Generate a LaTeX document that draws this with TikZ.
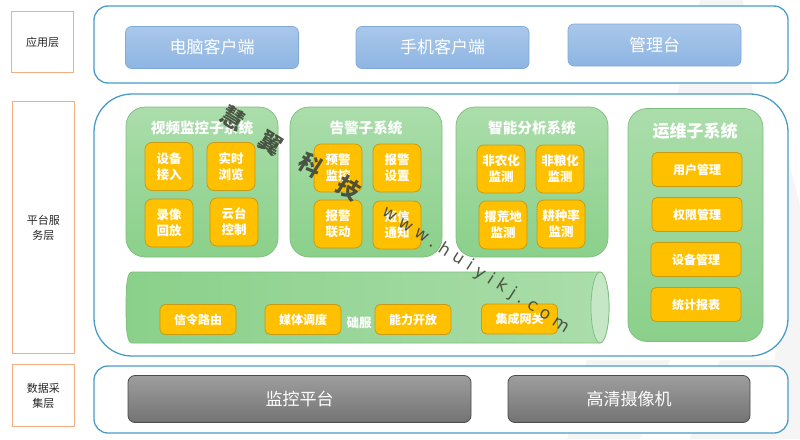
\documentclass[tikz,border=0pt]{standalone}
\usepackage{fontspec}
\setmainfont{Noto Sans CJK SC}
\newfontfamily\markfont[LetterSpace=32]{DejaVu Sans}
\usetikzlibrary{arrows.meta,positioning,calc,shapes.geometric}
\definecolor{layerblue}{HTML}{4A9CC7}
\definecolor{tagorange}{HTML}{F2AE82}
\definecolor{subgreen}{HTML}{8AD08A}
\definecolor{subedge}{HTML}{7DBD7E}
\definecolor{itemgold}{HTML}{FFC000}
\definecolor{itemedge}{HTML}{C99A12}
\definecolor{clientblue}{HTML}{8DB5E3}
\definecolor{clientedge}{HTML}{7FAAD8}
\definecolor{markgray}{HTML}{3F4638}
\definecolor{pagegray}{HTML}{F5F5F5}
\tikzset{
  x=1pt, y=-1pt,
  every node/.append style={inner sep=0pt, align=center},
  tagbox/.style={draw=tagorange, line width=1.7pt, fill=white, font=\fontsize{11}{15}\selectfont, text=black!85},
  layerbox/.style={draw=layerblue, line width=1.3pt, fill=white, rounded corners=#1},
  layerbox/.default=14pt,
  clientbox/.style={draw=clientedge, line width=0.7pt, rounded corners=6pt, top color=clientblue!75!white, bottom color=clientblue,
    text=white, font=\fontsize{17}{20}\selectfont, minimum height=42pt},
  devicebox/.style={draw=black!70, line width=0.8pt, rounded corners=7pt, top color=black!38, bottom color=black!55,
    text=white, font=\fontsize{17}{20}\selectfont, minimum height=47pt},
  groupbox/.style={draw=subedge, line width=0.7pt, rounded corners=19pt, top color=subgreen!72!white, bottom color=subgreen,
    minimum height=150pt},
  grouptitle/.style={text=white, font=\bfseries\fontsize{14.6}{17}\selectfont},
  itembox/.style={draw=itemedge, line width=0.8pt, fill=itemgold, rounded corners=7pt, text=white,
    font=\bfseries\fontsize{12.5}{16}\selectfont, minimum width=48pt, minimum height=48pt},
  wideitem/.style={itembox, rounded corners=5pt, minimum width=76pt, minimum height=30pt, font=\bfseries\fontsize{12}{14}\selectfont},
  markchar/.style={text=markgray, opacity=0.9, rotate=-32, font=\bfseries\fontsize{23}{23}\selectfont},
}
\begin{document}
\begin{tikzpicture}
\useasboundingbox (0,0) rectangle (800,439);

% --- Faint page backdrop ---
\fill[pagegray] (700,0) -- (743,0) -- (753,95) -- (677,95) -- cycle;
\fill[pagegray] (587,360) -- (670,360) -- (640,439) -- (567,439) -- cycle;
\fill[pagegray] (786,150) -- (800,205) -- (800,439) -- (690,439) -- (720,360) -- (775,360) -- cycle;

% --- Layer tags (left column) ---
\node[tagbox, minimum width=62pt, minimum height=61pt] (tagapp) at (42.5,42) {应用层};
\node[tagbox, minimum width=62pt, minimum height=252pt] (tagplat) at (43.5,227.5) {平台服\\务层};
\node[tagbox, minimum width=62pt, minimum height=62pt] (tagdata) at (43.5,395.5) {数据采\\集层};

% --- Layer frames ---
\node[layerbox, minimum width=694pt, minimum height=77pt] (app) at (441,44.5) {};
\node[layerbox=38pt, minimum width=694pt, minimum height=262pt] (plat) at (441,225) {};
\node[layerbox, minimum width=694pt, minimum height=67pt] (data) at (441,399.5) {};

% --- Application layer ---
\node[clientbox, minimum width=173pt] (pc) at (212,47.5) {电脑客户端};
\node[clientbox, minimum width=173pt] (phone) at (442.5,47.5) {手机客户端};
\node[clientbox, minimum width=173pt] (console) at (654.5,45) {管理台};

% --- Video subsystem ---
\node[groupbox, minimum width=152pt] (video) at (202,182) {};
\node[grouptitle] (videot) at (202,128) {视频监控子系统};
\node[itembox] (v1) at (169,166.5) {设备\\接入};
\node[itembox] (v2) at (231,166.5) {实时\\浏览};
\node[itembox] (v3) at (169,223) {录像\\回放};
\node[itembox] (v4) at (234,222) {云台\\控制};

% --- Alarm subsystem ---
\node[groupbox, minimum width=152pt] (alarm) at (366,182) {};
\node[grouptitle] (alarmt) at (366,128) {告警子系统};
\node[itembox] (a1) at (338,168) {预警\\监控};
\node[itembox] (a2) at (397,168) {报警\\设置};
\node[itembox] (a3) at (338,224) {报警\\联动};
\node[itembox] (a4) at (397,225) {短信\\通知};

% --- Analysis subsystem ---
\node[groupbox, minimum width=152pt] (ana) at (532,182) {};
\node[grouptitle] (anat) at (532,128) {智能分析系统};
\node[itembox] (n1) at (501,169) {非农化\\监测};
\node[itembox] (n2) at (560,169) {非粮化\\监测};
\node[itembox] (n3) at (503,225) {撂荒地\\监测};
\node[itembox] (n4) at (561,224) {耕种率\\监测};

% --- Operations subsystem ---
\node[groupbox, minimum width=135pt, minimum height=233pt] (ops) at (695.5,225) {};
\node[grouptitle, font=\bfseries\fontsize{17}{19}\selectfont] (opst) at (695,131) {运维子系统};
\node[wideitem, minimum width=90pt, minimum height=34pt] (o1) at (697,169.5) {用户管理};
\node[wideitem, minimum width=90pt, minimum height=34pt] (o2) at (697,214.5) {权限管理};
\node[wideitem, minimum width=90pt, minimum height=34pt] (o3) at (696,259.5) {设备管理};
\node[wideitem, minimum width=90pt, minimum height=34pt] (o4) at (696,304.5) {统计报表};

% --- Cylinder bus ---
\draw[draw=subedge, line width=0.7pt, left color=subgreen, right color=subgreen!72!white]
  (132,272) -- (600,272) .. controls (605,272) and (609,288) .. (609,307.5) .. controls (609,327) and (605,343) .. (600,343)
  -- (132,343) .. controls (127,343) and (126,330) .. (126,307.5) .. controls (126,285) and (127,272) .. (132,272) -- cycle;
\draw[draw=subedge, line width=0.7pt, fill=subgreen!50!white] (600,272) .. controls (605,272) and (609,288) .. (609,307.5)
  .. controls (609,327) and (605,343) .. (600,343) .. controls (595,343) and (591,327) .. (591,307.5) .. controls (591,288) and (595,272) .. (600,272) -- cycle;
\node[text=white, font=\bfseries\fontsize{12.5}{14}\selectfont] (bust) at (359,323) {础服};
\node[wideitem] (b1) at (198,319.5) {信令路由};
\node[wideitem] (b2) at (303,319.5) {媒体调度};
\node[wideitem] (b3) at (413,319.5) {能力开放};
\node[wideitem] (b4) at (519.5,319) {集成网关};

% --- Data layer ---
\node[devicebox, minimum width=343pt] (plat1) at (299.5,399) {监控平台};
\node[devicebox, minimum width=242pt] (cam) at (629,399) {高清摄像机};

% --- Watermark ---
\node[markchar] (m1) at (233,118) {慧};
\node[markchar] (m2) at (271,143) {翼};
\node[markchar] (m3) at (311,165) {科};
\node[markchar] (m4) at (349,188) {技};
\node[text=markgray, opacity=0.9, rotate=-32.6, font=\markfont\fontsize{17}{17}\selectfont] (m5) at (476,270) {www.huiyikj.com};
\end{tikzpicture}
\end{document}
